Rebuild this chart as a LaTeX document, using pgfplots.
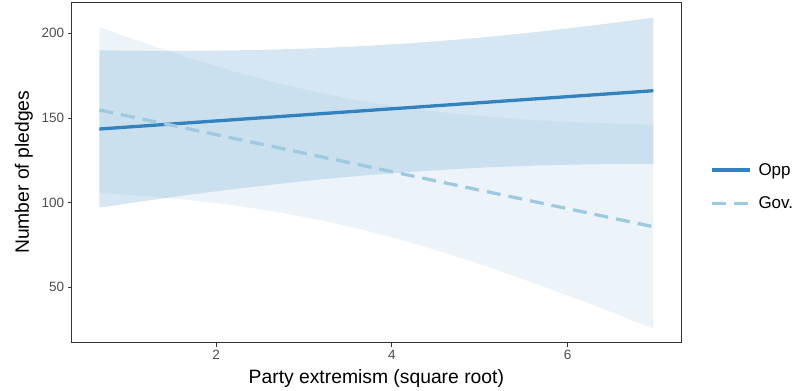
\documentclass[border=0pt]{standalone}
\usepackage{fontspec}
\setmainfont{Liberation Sans}
\usepackage{pgfplots}
\pgfplotsset{compat=1.18}
\usepgfplotslibrary{fillbetween}
\usepackage{pgfplotstable}
\definecolor{oppc}{HTML}{3182BD}
\definecolor{govc}{HTML}{9ECAE1}
\definecolor{tickc}{HTML}{4D4D4D}
\definecolor{framec}{HTML}{333333}

\pgfplotstableread{
x      u      l
0.672  190.0  97.0
1.2    189.7  101.1
1.7    189.7  104.7
2.2    189.9  108.0
2.7    190.5  111.0
3.2    191.3  113.8
3.7    192.6  116.1
4.2    194.1  118.1
4.7    196.1  119.8
5.2    198.4  121.1
5.7    201.1  122.0
6.2    204.1  122.6
6.6    206.7  122.8
6.975  209.3  122.9
}\opp

\pgfplotstableread{
x      u      l
0.672  203.7  105.7
1.2    194.0  103.9
1.7    185.4  101.5
2.2    177.5  98.5
2.7    170.5  94.5
3.2    164.6  89.6
3.7    159.6  83.6
4.2    155.7  76.6
4.7    152.6  68.8
5.2    150.3  60.2
5.7    148.5  50.9
6.2    147.3  41.3
6.6    146.6  33.3
6.975  146.0  25.6
}\gov

\begin{document}
\begin{tikzpicture}
\begin{axis}[
  scale only axis,
  width=609.3pt, height=340.7pt,
  xmin=0.357, xmax=7.29,
  ymin=17.3, ymax=218.5,
  xtick={2,4,6}, ytick={50,100,150,200},
  xtick pos=bottom, ytick pos=left,
  tick align=outside,
  major tick length=4pt,
  every tick/.style={framec, line width=0.8pt},
  axis line style={framec, line width=0.9pt},
  /pgf/number format/assume math mode=true,
  ticklabel style={font=\fontsize{13.5}{16}\selectfont, text=tickc},
  xlabel={Party extremism (square root)},
  ylabel={Number of pledges},
  label style={font=\fontsize{19.3}{23}\selectfont, text=black},
  ylabel style={at={(axis description cs:-0.0783,0.5)}, anchor=center},
  xlabel style={at={(axis description cs:0.5,-0.105)}, anchor=center},
  legend style={draw=none, fill=none, at={(axis description cs:1,0.458)}, anchor=west,
    xshift=26pt, font=\fontsize{17}{20}\selectfont, row sep=16pt,
    /tikz/every odd column/.append style={column sep=5pt}},
  legend cell align=left,
  legend image code/.code={\draw[#1] (0pt,0pt) -- (38pt,0pt);},
]
\addplot[draw=none, name path=ou, forget plot] table[x=x,y=u]{\opp};
\addplot[draw=none, name path=ol, forget plot] table[x=x,y=l]{\opp};
\addplot[draw=none, name path=gu, forget plot] table[x=x,y=u]{\gov};
\addplot[draw=none, name path=gl, forget plot] table[x=x,y=l]{\gov};
\addplot[fill=oppc, fill opacity=0.2, draw=none, forget plot] fill between[of=ou and ol];
\addplot[fill=govc, fill opacity=0.2, draw=none, forget plot] fill between[of=gu and gl];
\addplot[oppc, line width=3.3pt] coordinates {(0.672,143.5) (6.975,166.1)};
\addlegendentry{Opp}
\addplot[govc, line width=3.3pt, dash pattern=on 14pt off 8pt] coordinates {(0.672,154.7) (6.975,85.8)};
\addlegendentry{Gov.}
\end{axis}
\pgfresetboundingbox
\path ([shift={(-71.7pt,-48.3pt)}]current axis.south west) rectangle ([shift={(113pt,2pt)}]current axis.north east);
\end{tikzpicture}
\end{document}
